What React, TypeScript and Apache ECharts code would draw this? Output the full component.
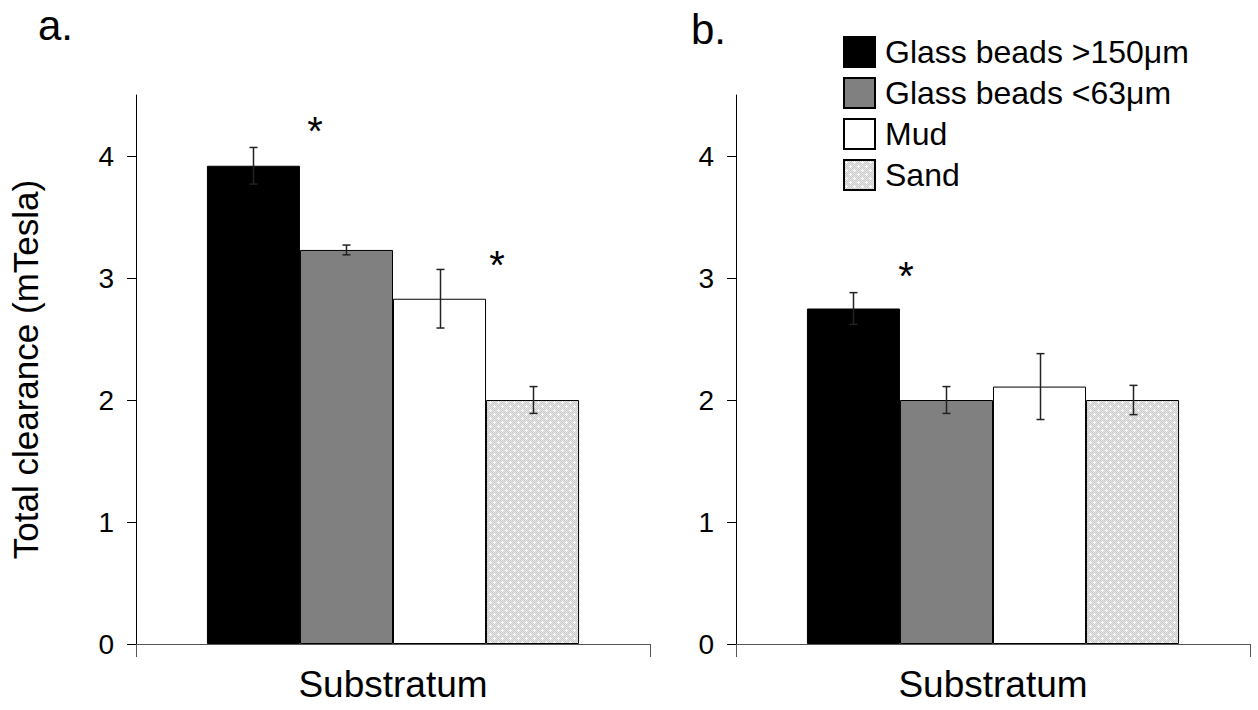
import React, { useEffect, useRef } from "react";
import * as echarts from "echarts";

const categories = ["Substratum"];
const seriesNames = ["Glass beads >150μm", "Glass beads <63μm", "Mud", "Sand"];
const panelAMeans = [3.92, 3.23, 2.83, 2.0];
const panelAErrors = [0.15, 0.04, 0.24, 0.11];
const panelBMeans = [2.75, 2.0, 2.11, 2.0];
const panelBErrors = [0.13, 0.11, 0.27, 0.12];
const yTicks = [0, 1, 2, 3, 4];
const panelLabels = ["a.", "b."];
const xAxisTitle = "Substratum";
const yAxisTitle = "Total clearance (mTesla)";

const FONT = "'Liberation Sans', Arial, Helvetica, sans-serif";
const BAR_FRAC = 0.181;

function makeSandPattern() {
  const c = document.createElement("canvas");
  c.width = 8;
  c.height = 8;
  const ctx = c.getContext("2d")!;
  for (let y = 0; y < 8; y++) {
    for (let x = 0; x < 8; x++) {
      ctx.fillStyle = (x + y) % 2 === 0 ? "#cdcdcd" : "#e4e4e4";
      ctx.fillRect(x, y, 1, 1);
    }
  }
  ctx.fillStyle = "#ffffff";
  const plus = (px: number, py: number) => {
    ctx.fillRect(px, py - 1, 1, 3);
    ctx.fillRect(px - 1, py, 3, 1);
  };
  plus(2, 2);
  plus(6, 6);
  return c;
}

export default function App() {
  const ref = useRef<HTMLDivElement>(null);
  useEffect(() => {
    if (!ref.current) return;
    const chart = echarts.init(ref.current, null, { renderer: "svg" });
    const sand = makeSandPattern();
    const sandFill: any = {
      image: sand,
      repeat: "repeat",
      imageWidth: 8,
      imageHeight: 8,
    };
    const colors: any[] = ["#000000", "#808080", "#ffffff", sandFill];

    const grids = [
      { left: 136, top: 95, width: 514, height: 549, outerBoundsMode: "none", containLabel: false },
      { left: 736, top: 95, width: 514, height: 549, outerBoundsMode: "none", containLabel: false },
    ];

    const xAxes = grids.map((_, i) => ({
      type: "category",
      gridIndex: i,
      data: categories.map(() => ""),
      boundaryGap: true,
      axisLine: { show: true, lineStyle: { color: "#555", width: 1 } },
      axisTick: {
        show: true,
        interval: 0,
        length: 13,
        lineStyle: { color: "#555", width: 1 },
      },
      axisLabel: { show: false },
      name: xAxisTitle,
      nameLocation: "middle",
      nameGap: 22,
      nameTextStyle: { fontSize: 37, color: "#000", fontFamily: FONT },
    }));

    const yAxes = grids.map((_, i) => ({
      type: "value",
      gridIndex: i,
      min: 0,
      max: 4.5,
      axisLine: { show: true, lineStyle: { color: "#000", width: 1 } },
      axisTick: {
        show: true,
        length: 9,
        customValues: yTicks,
        lineStyle: { color: "#000", width: 1 },
      },
      axisLabel: {
        show: true,
        customValues: yTicks,
        margin: 22,
        fontSize: 28,
        color: "#000",
        fontFamily: FONT,
      },
      splitLine: { show: false },
      name: i === 0 ? yAxisTitle : "",
      nameLocation: "middle",
      nameRotate: 90,
      nameGap: 93,
      nameTextStyle: { fontSize: 35, color: "#000", fontFamily: FONT },
    }));

    const panels = [
      { means: panelAMeans, errs: panelAErrors },
      { means: panelBMeans, errs: panelBErrors },
    ];

    const series: any[] = [];
    panels.forEach((p, pi) => {
      seriesNames.forEach((name, si) => {
        series.push({
          type: "bar",
          name,
          xAxisIndex: pi,
          yAxisIndex: pi,
          data: [p.means[si]],
          barWidth: BAR_FRAC * 100 + "%",
          barGap: "0%",
          itemStyle: {
            color: colors[si],
            borderColor: "#000",
            borderWidth: 1,
          },
          emphasis: { disabled: true },
        });
      });
      series.push({
        type: "custom",
        name: "err" + pi,
        xAxisIndex: pi,
        yAxisIndex: pi,
        z: 5,
        encode: { x: 0, y: 1 },
        data: p.means.map((m, si) => [0, m, p.errs[si], si]),
        renderItem: (params: any, api: any) => {
          const mean = api.value(1);
          const err = api.value(2);
          const si = api.value(3);
          const band = api.size([1, 0])[0];
          const barW = band * BAR_FRAC;
          const c = api.coord([0, mean]);
          const cx = Math.round(c[0] + (si - 1.5) * barW) + 0.5;
          const top = api.coord([0, mean + err])[1];
          const bot = api.coord([0, mean - err])[1];
          const cap = 4;
          const style = { stroke: "#222", lineWidth: 1.5 };
          return {
            type: "group",
            children: [
              { type: "line", shape: { x1: cx, y1: top, x2: cx, y2: bot }, style },
              { type: "line", shape: { x1: cx - cap, y1: top, x2: cx + cap, y2: top }, style },
              { type: "line", shape: { x1: cx - cap, y1: bot, x2: cx + cap, y2: bot }, style },
            ],
          };
        },
      });
    });

    const starStyle = { text: "*", fontSize: 40, fill: "#000", fontFamily: FONT, textAlign: "center", textVerticalAlign: "middle" };

    chart.setOption({
      animation: false,
      textStyle: { fontFamily: FONT },
      grid: grids,
      xAxis: xAxes,
      yAxis: yAxes,
      legend: {
        data: seriesNames,
        orient: "vertical",
        left: 838,
        top: 31,
        itemWidth: 31,
        itemHeight: 30,
        itemGap: 9,
        icon: "rect",
        selectedMode: false,
        textStyle: { fontSize: 32, lineHeight: 30, color: "#000", fontFamily: FONT, padding: [0, 0, 0, 5] },
      },
      series,
      graphic: [
        { type: "text", left: 38, top: 4, style: { text: panelLabels[0], fontSize: 42, fill: "#000", fontFamily: FONT } },
        { type: "text", left: 691, top: 8, style: { text: panelLabels[1], fontSize: 42, fill: "#000", fontFamily: FONT } },
        { type: "text", x: 315, y: 131, style: starStyle },
        { type: "text", x: 497, y: 265, style: starStyle },
        { type: "text", x: 906, y: 276, style: starStyle },
      ],
    });
    return () => chart.dispose();
  }, []);
  return (
    <div
      ref={ref}
      style={{ position: "absolute", left: 0, top: 0, width: 1258, height: 710, background: "#fff" }}
    />
  );
}
